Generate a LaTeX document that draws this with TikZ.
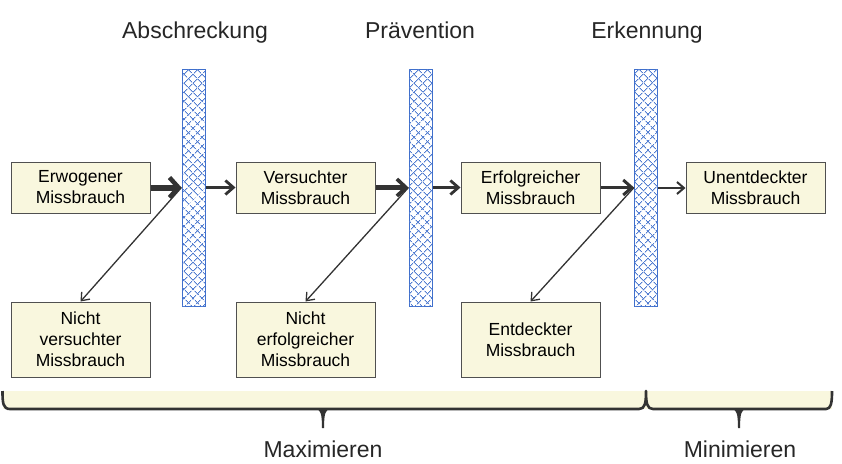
\documentclass[tikz,border=0pt]{standalone}
\usepackage{fontspec}
\setmainfont{Liberation Sans}
\usetikzlibrary{arrows.meta,patterns.meta}
\definecolor{boxfill}{HTML}{F9F7DE}
\definecolor{boxline}{HTML}{505050}
\definecolor{arr}{HTML}{333333}
\definecolor{hatch}{HTML}{3F6FCC}
\tikzset{
  mbox/.style={draw=boxline,line width=1pt,fill=boxfill,minimum width=139pt,align=center,inner sep=0pt,
    font=\fontsize{17.5}{21}\selectfont},
  topbox/.style={mbox,minimum height=51pt},
  botbox/.style={mbox,minimum height=75pt},
  barnode/.style={draw=hatch,line width=1pt,minimum width=23pt,minimum height=237pt,inner sep=0pt,fill=white,
    postaction={pattern={Lines[angle=45,distance=6.5pt,line width=1pt]},pattern color=hatch!90},
    postaction={pattern={Lines[angle=-45,distance=6.5pt,line width=1pt]},pattern color=hatch!90}},
  title/.style={font=\fontsize{23}{27}\selectfont,text=black!85,anchor=base},
  flow/.style={draw=arr},
  diag/.style={draw=arr,line width=1.3pt,-{Straight Barb[length=7pt,width=11pt,line width=1.3pt]}}
}
\begin{document}
\begin{tikzpicture}[x=1pt,y=-1pt]
\useasboundingbox (0,0) rectangle (842,463);
% bars
\node[barnode] (bar1) at (193.5,187.5) {};
\node[barnode] (bar2) at (420.5,187.5) {};
\node[barnode] (bar3) at (646,187.5) {};
% titles
\node[title] (t1) at (195,38) {Abschreckung};
\node[title] (t2) at (420,38) {Prävention};
\node[title] (t3) at (647,38) {Erkennung};
% top boxes
\node[topbox] (b1) at (80.5,187.5) {Erwogener\\Missbrauch};
\node[topbox] (b2) at (305.5,187.5) {Versuchter\\Missbrauch};
\node[topbox] (b3) at (530.5,187.5) {Erfolgreicher\\Missbrauch};
\node[topbox] (b4) at (755.5,188) {Unentdeckter\\Missbrauch};
% bottom boxes
\node[botbox] (n1) at (80.5,339.5) {Nicht\\versuchter\\Missbrauch};
\node[botbox] (n2) at (305.5,339.5) {Nicht\\erfolgreicher\\Missbrauch};
\node[botbox] (n3) at (530.5,339.5) {Entdeckter\\Missbrauch};
% flow arrows
\draw[flow,line width=6pt,-{Straight Barb[length=9pt,width=20pt,line width=4.5pt]}] (b1.east) -- (b1.east -| bar1.west);
\draw[flow,line width=3pt,-{Straight Barb[length=8pt,width=14pt,line width=2.8pt]}] (b2.west -| bar1.east) -- (b2.west);
\draw[flow,line width=4.5pt,-{Straight Barb[length=9pt,width=17pt,line width=3.6pt]}] (b2.east) -- (b2.east -| bar2.west);
\draw[flow,line width=3pt,-{Straight Barb[length=8pt,width=14pt,line width=2.8pt]}] (b3.west -| bar2.east) -- (b3.west);
\draw[flow,line width=3.5pt,-{Straight Barb[length=8.5pt,width=15pt,line width=3pt]}] (b3.east) -- (b3.east -| bar3.west);
\draw[flow,line width=2pt,-{Straight Barb[length=7pt,width=12pt,line width=2pt]}] (b4.west -| bar3.east) -- (b4.west);
% diagonal arrows
\draw[diag] (b1.east -| bar1.west) -- (n1.north);
\draw[diag] (b2.east -| bar2.west) -- (n2.north);
\draw[diag] (b3.east -| bar3.west) -- (n3.north);
% brace fill
\fill[boxfill] (3,391) rectangle (832,409);
% braces
\draw[arr,line width=2.6pt,line join=round]
  (2.5,391) .. controls (2.5,403) and (3,409) .. (10,409) -- (639,409)
  .. controls (645,409) and (646,403) .. (646,391)
  .. controls (646,403) and (647,409) .. (653,409) -- (826,409)
  .. controls (831,409) and (832,403) .. (832,391);
\fill[arr] (316,409) .. controls (321,410) and (321.8,414) .. (322,428) -- (324,428)
  .. controls (324.2,414) and (325,410) .. (330,409) -- cycle;
\fill[arr] (732,409) .. controls (737,410) and (737.8,414) .. (738,428) -- (740,428)
  .. controls (740.2,414) and (741,410) .. (746,409) -- cycle;
\node[title] (m1) at (323,457) {Maximieren};
\node[title] (m2) at (740,457) {Minimieren};
\end{tikzpicture}
\end{document}
